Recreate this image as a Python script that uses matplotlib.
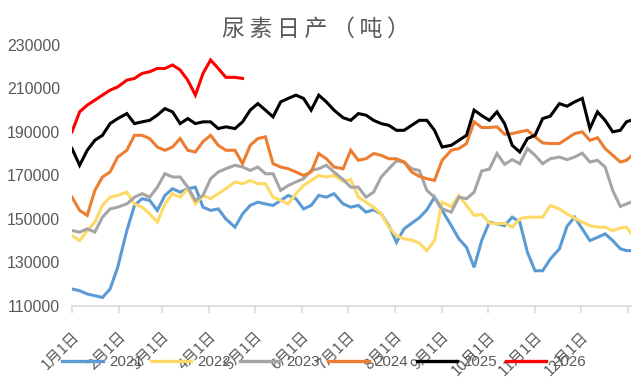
import matplotlib
matplotlib.use('Agg')
import matplotlib.pyplot as plt
from matplotlib.lines import Line2D

# day-of-year positions of the sampled points
days = [0, 5, 10, 15, 20, 25, 30, 36, 41, 46, 51, 56, 61, 66, 71, 76, 81, 86, 91, 96, 101,
        107, 112, 117, 122, 127, 132, 137, 142, 147, 152, 157, 162, 167, 172,
        178, 183, 188, 193, 198, 203, 208, 213, 218, 223, 228, 233, 238, 243,
        249, 254, 259, 264, 269, 274, 279, 284, 289, 294, 299, 304, 309, 314,
        320, 325, 330, 335, 340, 345, 350, 355, 360, 364, 367]

y2021 = [117600, 116800, 115300, 114500, 113700, 117600, 127600, 144500, 156100, 159200,
         158400, 153800, 160700, 163800, 162200, 163800, 164500, 155300, 153800, 154500,
         149900, 146100, 152200, 156100, 157600, 156800, 156100, 158400, 160700, 159200,
         154500, 156100, 160700, 159900, 161500, 156800, 155300, 156100, 153000, 154100,
         152200, 146800, 139100, 145300, 147900, 150400, 154100, 159900, 153800, 146800,
         140700, 136800, 127600, 140000, 148400, 147600, 146800, 150700, 148400, 134500,
         126000, 126000, 131400, 136100, 146500, 150700, 145300, 139900, 141400, 143000,
         139900, 136100, 135300, 135300]

y2022 = [142200, 139900, 144500, 148400, 156100, 159900, 160700, 162200, 156800, 155300,
         152200, 148400, 156800, 161500, 159900, 163800, 156800, 160700, 159200, 161500,
         163800, 166900, 166100, 167600, 166100, 166100, 159900, 158400, 156800, 161500,
         165300, 167600, 169900, 169200, 169900, 167200, 168000, 159900, 157600, 155300,
         152200, 146100, 142200, 140700, 140200, 138700, 135300, 139900, 157600, 155600,
         160700, 156100, 151500, 152000, 148000, 147600, 147900, 146100, 149900, 150700,
         150700, 150700, 156100, 154500, 152200, 150200, 148400, 146800, 146100, 146100,
         144500, 145700, 146100, 143300]

y2023 = [144500, 143800, 145300, 143800, 150700, 154500, 155300, 156800, 159900, 161500,
         159900, 164500, 170700, 169200, 169200, 164500, 158400, 160700, 168400, 171500,
         173000, 174600, 173800, 172200, 173800, 170700, 170700, 163000, 165300, 166900,
         168400, 172200, 173000, 174600, 171500, 168000, 164500, 164500, 159900, 162200,
         169200, 173000, 176600, 176100, 173000, 172200, 163000, 159900, 154500, 153000,
         159900, 159200, 162200, 172000, 172800, 180000, 175000, 177200, 175300, 182300,
         179200, 175300, 177600, 178400, 177200, 178400, 180200, 176100, 176900, 173800,
         163000, 155600, 156800, 157600]

y2024 = [159900, 153800, 151500, 163000, 169200, 171500, 178400, 181500, 188400, 188400,
         186900, 183000, 181500, 183000, 186900, 181500, 180700, 185500, 188400, 183800,
         181500, 181500, 175300, 183800, 186900, 187700, 175300, 173800, 173000, 171500,
         169900, 171500, 180000, 177600, 173800, 173000, 181500, 176900, 177600, 180000,
         179200, 177600, 177600, 176100, 171500, 169500, 168400, 167600, 176900, 181500,
         182300, 184600, 194600, 192000, 192000, 192300, 188900, 189200, 190000, 190700,
         187700, 184900, 184600, 184600, 186900, 189200, 190000, 186100, 187300, 182300,
         179200, 176100, 176900, 178700]

y2025 = [182300, 174600, 181500, 186100, 188400, 193800, 196100, 198400, 193800, 194600,
         195300, 197700, 200700, 199200, 193800, 196100, 193800, 194600, 194600, 191500,
         192300, 191500, 194600, 200000, 203000, 200000, 196900, 203800, 205400, 206900,
         205400, 200000, 206900, 203800, 200000, 196500, 195300, 198400, 197700, 195300,
         193800, 193000, 190700, 190700, 193000, 195300, 195300, 190700, 183000, 183800,
         186100, 188400, 200000, 197500, 195300, 199200, 193800, 183800, 180700, 186900,
         188400, 196100, 197200, 203000, 201800, 203800, 205400, 191500, 199200, 195300,
         190000, 190700, 194600, 195300]

y2026 = [190000, 199200, 202300, 204600, 206900, 209200, 210700, 213800, 214600, 216900,
         217700, 219200, 219200, 220800, 218500, 213800, 206900, 216900, 223100, 219200,
         215100, 215100, 214600]

years = ['2021', '2022', '2023', '2024', '2025', '2026']
month_days = [0, 31, 59, 90, 120, 151, 181, 212, 243, 273, 304, 334, 365]
month_labels = ['1月1日', '2月1日', '3月1日', '4月1日', '5月1日', '6月1日',
                '7月1日', '8月1日', '9月1日', '10月1日', '11月1日', '12月1日', '']
y_ticks = [110000, 130000, 150000, 170000, 190000, 210000, 230000]
title = '尿\u2009素\u2009日\u2009产\u2009（\u2009吨\u2009）'

colors = ['#5B9BD5', '#FFD966', '#A5A5A5', '#ED7D31', '#000000', '#FF0000']
TXT = '#595959'
CJK = ['Noto Sans CJK SC', 'DejaVu Sans']

fig = plt.figure(figsize=(6.44, 3.92), dpi=100)
ax = fig.add_axes([72 / 644, 1 - 305.5 / 392, (631 - 72) / 644, (305.5 - 45) / 392])

all_series = [y2021, y2022, y2023, y2024, y2025, y2026]
handles = []
for yr, vals, c in zip(years, all_series, colors):
    ax.plot(days[:len(vals)], vals, color=c, lw=2.2, solid_joinstyle='miter')
    handles.append(Line2D([], [], color=c, lw=2.4))

ax.set_xlim(0, 367)
ax.set_ylim(110000, 230000)

for s in ['top', 'right', 'left']:
    ax.spines[s].set_visible(False)
ax.spines['bottom'].set_color('#D9D9D9')
ax.spines['bottom'].set_linewidth(1.1)

ax.set_xticks(month_days)
ax.set_xticklabels(month_labels, rotation=45, ha='right', va='top',
                   rotation_mode='anchor', family=CJK, fontsize=10.8, color=TXT)
ax.tick_params(axis='x', direction='out', length=5, width=1.1, color='#D9D9D9', pad=12)

ax.set_yticks(y_ticks)
ax.set_yticklabels([str(v) for v in y_ticks], family='Liberation Sans', fontsize=11.4, color=TXT)
ax.tick_params(axis='y', length=0, pad=8.6)

fig.text(316 / 644, 1 - 29 / 392, title, ha='center', va='center',
         family=CJK, fontsize=16.5, color=TXT)

fig.legend(handles, years, loc='center', bbox_to_anchor=(324 / 644, 1 - 362 / 392),
           ncol=6, frameon=False, handlelength=2.7, handletextpad=0.4,
           columnspacing=0.57, prop={'family': 'Liberation Sans', 'size': 10.8},
           labelcolor=TXT)

fig.savefig('out.png', dpi=100)
